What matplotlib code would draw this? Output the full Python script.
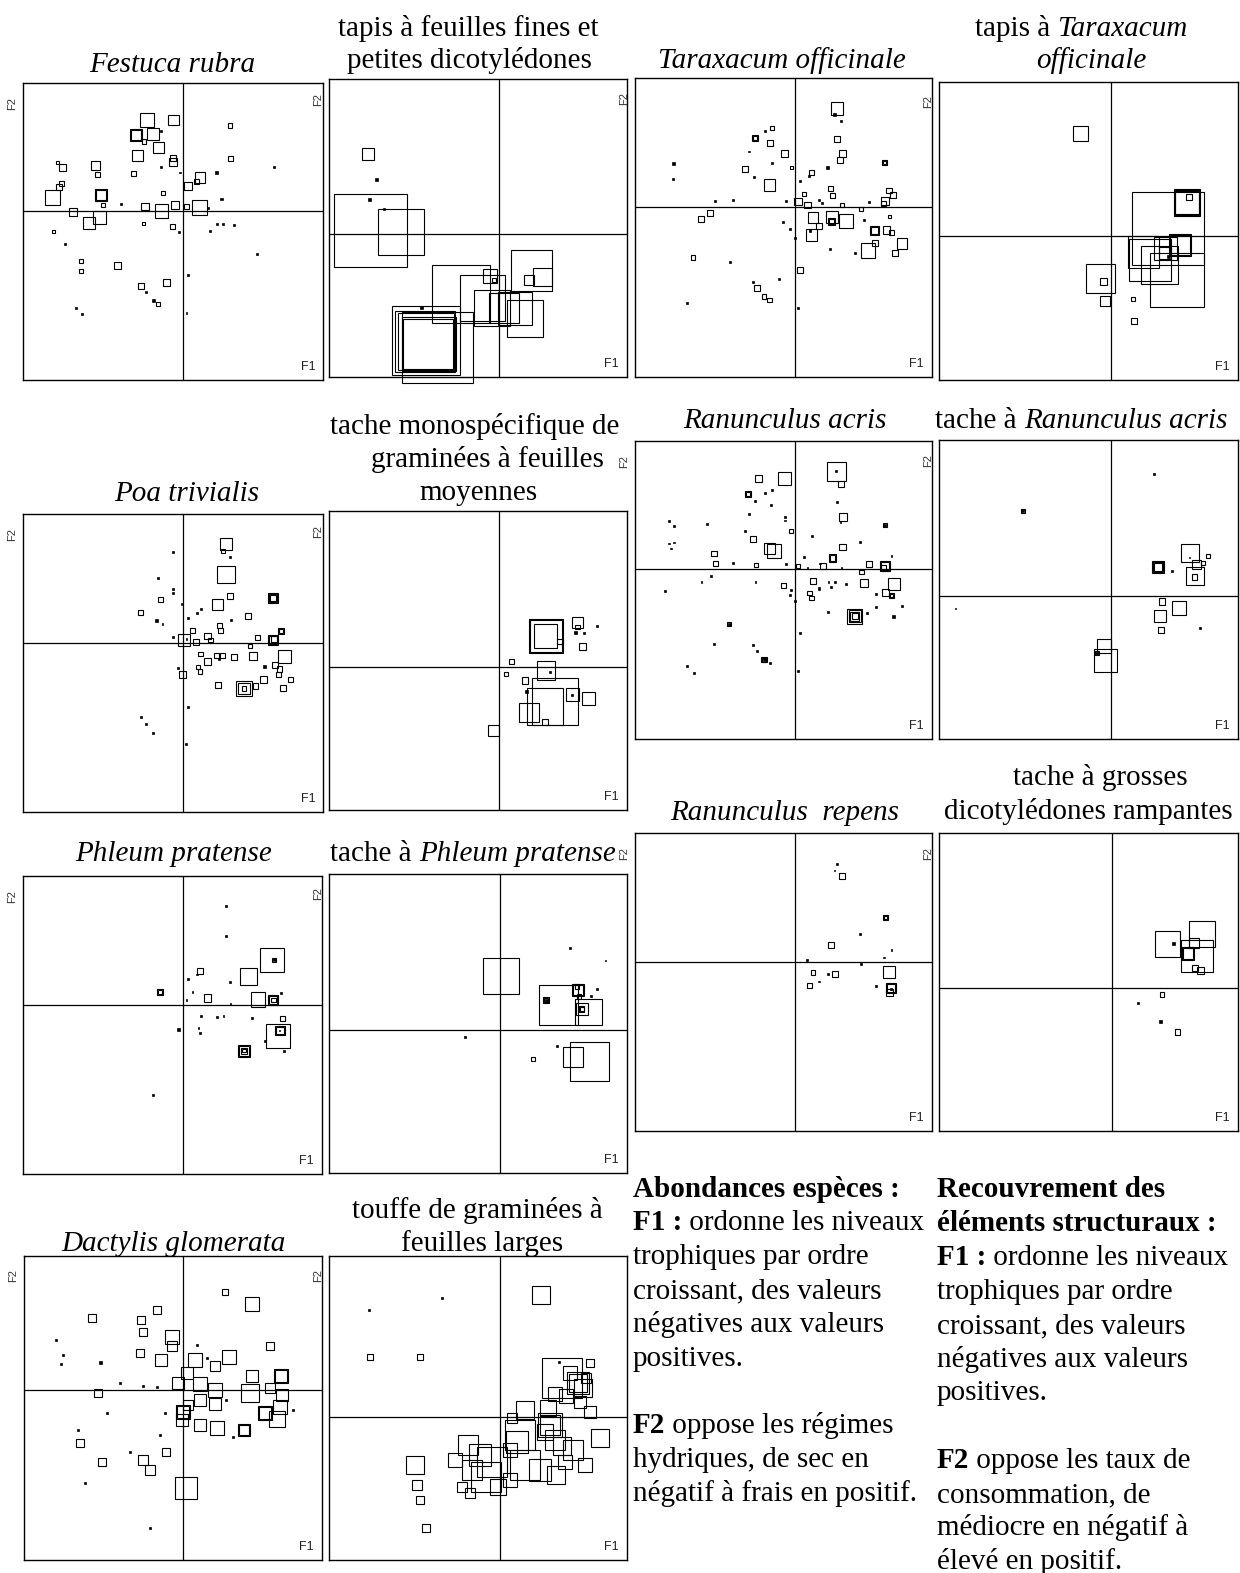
import matplotlib
matplotlib.use('Agg')
import matplotlib.pyplot as plt
from matplotlib.patches import Rectangle

# Ordination scores (F1, F2), with the marker side
# (abundance / cover). Side < 10 is drawn as a filled dot.
festuca = [(-110, 272, 42), (-29, 272, 32), (-142, 227, 36), (-142, 227, 30), (-90, 229, 36),
           (-67, 239, 8), (-118, 207, 14), (-74, 190, 34), (-138, 165, 32), (-32, 159, 18),
           (-32, 145, 24), (-67, 130, 7), (-150, 112, 14), (-10, 114, 5), (-263, 135, 28),
           (-257, 109, 14), (-378, 144, 10), (-363, 129, 20), (-365, 82, 14), (-373, 70, 18),
           (-392, 40, 46), (-247, 47, 34), (-247, 47, 28), (-240, 17, 12), (-188, 20, 6),
           (-62, 54, 12), (50, 100, 32), (40, 87, 16), (15, 74, 24), (100, 114, 7),
           (140, 255, 14), (142, 157, 16), (273, 132, 6), (115, 35, 7), (48, 10, 46),
           (10, 12, 16), (-25, 17, 22), (-65, -1, 40), (-115, 12, 22), (-330, -3, 24),
           (-252, -21, 38), (-283, -38, 36), (-390, -63, 10), (-355, -100, 6), (-120, -38, 10),
           (-32, -48, 14), (-12, -63, 6), (-307, -151, 10), (-307, -181, 12), (-197, -165, 20),
           (-50, -216, 20), (-127, -226, 16), (-112, -244, 6), (-90, -270, 9), (-77, -281, 12),
           (-323, -291, 6), (-303, -311, 6), (15, -193, 6), (75, 7, 5), (80, -61, 5),
           (102, -40, 6), (120, -41, 6), (153, -44, 6), (220, -131, 6), (10, -308, 5)]

tapis_fines = [(-395, 239, 36), (-368, 162, 9), (-391, 104, 9), (-386, 11, 218), (-294, 7, 138),
               (-346, 75, 8), (-115, -180, 175), (-51, -193, 137), (-27, -127, 42), (-15, -138, 12),
               (96, -109, 122), (129, -129, 56), (88, -138, 30), (-23, -223, 108), (47, -223, 100),
               (77, -253, 110), (14, -223, 90), (-235, -220, 9), (-220, -320, 205), (-223, -323, 182),
               (-220, -323, 170), (-213, -330, 150), (-185, -340, 212), (-211, -330, 160)]

taraxacum = [(127, 295, 38), (120, 277, 9), (140, 257, 6), (-67, 237, 12), (-88, 228, 6),
             (-120, 205, 18), (-120, 205, 13), (-73, 192, 18), (127, 203, 20), (143, 160, 20),
             (136, 140, 16), (-30, 160, 20), (-138, 165, 5), (-68, 130, 6), (-363, 128, 9),
             (-365, 82, 5), (-148, 112, 18), (-123, 90, 6), (-10, 117, 10), (50, 103, 16),
             (42, 92, 5), (98, 117, 7), (270, 133, 14), (270, 133, 10), (-75, 65, 34),
             (15, 77, 6), (107, 54, 14), (113, 34, 14), (28, 38, 14), (-238, 17, 6),
             (-185, 20, 6), (-25, 18, 6), (10, 15, 22), (38, 5, 20), (72, 20, 5),
             (82, 10, 5), (142, 5, 14), (200, -8, 12), (222, 15, 6), (283, 48, 16),
             (295, 35, 20), (270, 18, 24), (267, 10, 14), (-254, -20, 18), (-282, -37, 18),
             (55, -33, 32), (72, -58, 18), (50, -85, 34), (46, -72, 8), (113, -30, 36),
             (110, -45, 22), (110, -45, 16), (155, -42, 42), (285, -30, 10), (-35, -47, 5),
             (-13, -68, 6), (0, -93, 6), (208, -40, 6), (240, -72, 26), (240, -72, 20),
             (275, -70, 22), (290, -78, 14), (322, -110, 32), (242, -110, 18), (220, -132, 44),
             (300, -138, 18), (182, -138, 6), (105, -127, 5), (-305, -152, 14), (-193, -165, 6),
             (15, -190, 18), (-47, -217, 6), (-125, -226, 6), (-112, -243, 18), (-92, -270, 14),
             (-75, -280, 14), (-323, -290, 6), (10, -303, 6)]

tapis_taraxacum = [(-93, 308, 44), (170, 22, 218), (227, 100, 80), (227, 100, 74), (227, 100, 70),
                   (234, 116, 18), (205, -27, 66), (205, -27, 60), (97, -47, 95), (117, -72, 125),
                   (144, -87, 112), (197, -132, 160), (162, -50, 36), (172, -62, 8), (162, -37, 70),
                   (-33, -127, 88), (-23, -137, 20), (-20, -194, 30), (65, -190, 12), (68, -254, 18)]

poa = [(128, 297, 36), (118, 277, 12), (140, 258, 6), (128, 207, 52), (-30, 273, 6),
       (-75, 195, 6), (-30, 163, 6), (-30, 150, 6), (-68, 132, 14), (139, 143, 18),
       (102, 117, 34), (270, 135, 30), (270, 135, 24), (270, 135, 18), (-128, 93, 14),
       (-5, 118, 4), (53, 102, 5), (40, 90, 6), (13, 77, 6), (195, 83, 18),
       (142, 70, 6), (-80, 67, 9), (-63, 58, 4), (108, 54, 14), (112, 39, 16),
       (27, 39, 14), (293, 37, 18), (293, 37, 12), (72, 22, 20), (82, 10, 14),
       (-30, 18, 6), (3, 9, 36), (10, 13, 5), (37, 5, 18), (222, 17, 16),
       (200, -8, 14), (268, 10, 30), (268, 10, 24), (272, 13, 16), (303, -40, 38),
       (51, -32, 14), (100, -37, 16), (118, -37, 14), (152, -41, 16), (108, -47, 6),
       (208, -38, 24), (72, -55, 20), (45, -70, 12), (50, -84, 14), (-15, -73, 6),
       (-2, -93, 20), (243, -68, 9), (275, -65, 20), (288, -77, 16), (285, -93, 14),
       (241, -108, 22), (322, -108, 14), (103, -126, 18), (182, -136, 46), (182, -136, 34),
       (182, -136, 14), (217, -128, 16), (300, -135, 18), (15, -190, 6), (-128, -222, 6),
       (-113, -242, 6), (-90, -268, 6), (8, -301, 5)]

tache_mono = [(140, 92, 100), (140, 92, 96), (139, 92, 70), (182, 75, 16), (234, 133, 32),
              (234, 119, 14), (229, 102, 8), (255, 102, 6), (292, 123, 5), (249, 60, 20),
              (37, 15, 16), (20, -22, 12), (140, -12, 56), (152, -17, 6), (77, -42, 20),
              (137, -120, 110), (167, -105, 140), (219, -83, 40), (219, -85, 6), (267, -95, 40),
              (89, -138, 58), (80, -75, 9), (137, -167, 18), (-17, -191, 34)]

ran_acris = [(125, 292, 56), (125, 293, 6), (140, 255, 18), (-30, 270, 40), (-108, 270, 20),
             (-139, 223, 18), (-139, 223, 12), (-90, 227, 6), (-68, 235, 5), (-118, 203, 6),
             (-72, 190, 6), (127, 200, 7), (144, 155, 24), (137, 140, 5), (-138, 163, 5),
             (-30, 155, 5), (-30, 144, 5), (270, 130, 12), (270, 130, 8), (-377, 142, 5),
             (-363, 127, 5), (-263, 133, 5), (-10, 114, 12), (-150, 112, 6), (52, 98, 5),
             (-124, 88, 18), (195, 80, 6), (143, 65, 20), (-75, 60, 32), (-62, 53, 40),
             (-377, 75, 5), (-363, 78, 5), (-372, 60, 5), (113, 32, 22), (113, 32, 16),
             (-242, 45, 16), (-237, 15, 16), (-185, 18, 6), (-116, 10, 12), (-25, 14, 6),
             (28, 35, 4), (10, 8, 14), (38, 2, 5), (75, 15, 5), (85, 8, 16),
             (140, 2, 5), (200, -10, 14), (222, 13, 18), (270, 7, 30), (270, 7, 24),
             (267, 2, 16), (290, 37, 5), (-252, -22, 6), (-280, -40, 5), (-390, -67, 6),
             (-118, -41, 5), (-33, -50, 16), (-12, -65, 5), (-13, -78, 6), (0, -96, 5),
             (55, -37, 16), (73, -60, 8), (45, -73, 14), (50, -88, 14), (101, -40, 5),
             (120, -40, 5), (108, -56, 5), (153, -47, 5), (208, -43, 26), (298, -45, 36),
             (273, -72, 22), (290, -80, 16), (290, -80, 10), (244, -76, 6), (322, -113, 6),
             (244, -115, 6), (216, -133, 5), (180, -143, 44), (180, -143, 36), (180, -143, 28),
             (180, -143, 18), (297, -143, 9), (101, -131, 6), (-196, -167, 12), (-196, -167, 8),
             (15, -194, 6), (-242, -226, 6), (-125, -230, 6), (-112, -247, 6), (-92, -273, 16),
             (-92, -273, 12), (-92, -273, 9), (-75, -282, 5), (-323, -293, 6), (-302, -312, 6),
             (10, -306, 5)]

tache_acris = [(-266, 256, 12), (-266, 256, 8), (128, 365, 5), (235, 130, 54), (235, 115, 4),
               (290, 121, 12), (255, 95, 28), (274, 100, 12), (252, 60, 54), (250, 57, 16),
               (140, 87, 36), (140, 87, 30), (140, 87, 26), (182, 74, 6), (152, -16, 20),
               (202, -35, 42), (145, -61, 36), (148, -101, 18), (267, -96, 6), (-23, -151, 42),
               (-18, -193, 70), (-43, -171, 14), (-43, -171, 9), (-468, -36, 3)]

phleum = [(128, 295, 6), (128, 205, 6), (267, 135, 72), (273, 135, 12), (273, 135, 8),
          (196, 84, 50), (49, 100, 18), (40, 90, 5), (13, 77, 5), (140, 69, 6),
          (-70, 38, 18), (-70, 38, 12), (27, 38, 4), (10, 14, 4), (72, 20, 22),
          (142, 2, 4), (224, 16, 44), (270, 14, 30), (270, 14, 24), (270, 14, 14),
          (292, 35, 6), (53, -35, 5), (100, -38, 5), (120, -35, 5), (207, -41, 6),
          (298, -42, 16), (285, -94, 72), (290, -78, 28), (290, -78, 22), (288, -77, 4),
          (245, -110, 5), (301, -139, 6), (-16, -74, 9), (45, -70, 5), (50, -85, 5),
          (182, -138, 36), (182, -138, 30), (182, -138, 18), (182, -138, 10), (-90, -270, 6)]

tache_phleum = [(4, 162, 108), (210, 245, 6), (315, 207, 3), (175, 74, 118), (265, 53, 80),
                (233, 119, 36), (233, 119, 30), (231, 130, 14), (245, 62, 36), (245, 62, 16),
                (245, 62, 12), (139, 88, 18), (139, 88, 12), (139, 88, 9), (290, 122, 6),
                (272, 102, 6), (237, 100, 14), (-104, -21, 6), (171, -50, 6), (219, -82, 62),
                (268, -96, 118), (98, -88, 12)]

ran_repens = [(127, 293, 6), (120, 274, 4), (143, 256, 18), (272, 132, 14), (272, 132, 10),
              (197, 82, 6), (108, 50, 18), (290, 35, 5), (268, 12, 4), (38, 4, 6),
              (200, -8, 6), (55, -33, 14), (100, -38, 5), (120, -37, 18), (45, -71, 14),
              (73, -60, 4), (283, -31, 34), (245, -73, 6), (290, -78, 30), (290, -78, 24),
              (285, -93, 20), (288, -83, 6)]

tache_dicot = [(270, 162, 78), (166, 133, 76), (185, 133, 9), (254, 98, 96), (228, 105, 38),
               (228, 105, 32), (245, 135, 30), (248, 62, 18), (265, 54, 22), (150, -18, 14),
               (78, -44, 7), (146, -101, 9), (197, -131, 16)]

dactylis = [(126, 294, 18), (-78, 240, 24), (-126, 210, 24), (207, 258, 42), (-273, 216, 24),
            (-120, 174, 24), (-33, 159, 42), (-33, 132, 30), (261, 132, 24), (-381, 150, 6),
            (-360, 105, 6), (-366, 78, 6), (-249, 84, 9), (42, 135, 6), (-129, 111, 24),
            (-66, 90, 36), (36, 90, 42), (138, 99, 42), (96, 72, 30), (72, 96, 6),
            (294, 42, 42), (294, 42, 34), (12, 51, 36), (-15, 21, 36), (207, 42, 36),
            (-189, 21, 6), (-120, 12, 6), (-78, 9, 6), (-255, -9, 24), (51, 18, 42),
            (96, 0, 42), (201, -9, 54), (261, 6, 30), (297, -15, 36), (15, -45, 30),
            (51, -30, 36), (96, -42, 36), (129, -30, 6), (0, -66, 42), (0, -66, 34),
            (-3, -90, 36), (-54, -69, 6), (246, -69, 42), (246, -69, 34), (291, -51, 42),
            (282, -87, 48), (183, -120, 36), (183, -120, 28), (102, -114, 42), (51, -105, 36),
            (-228, -69, 6), (-315, -120, 6), (-309, -159, 24), (-69, -135, 6), (-243, -216, 24),
            (-159, -186, 6), (-120, -210, 30), (-99, -240, 30), (-51, -186, 24), (9, -294, 66),
            (-294, -279, 6), (-99, -414, 6), (150, -141, 6), (330, -60, 6)]

touffe = [(-393, 321, 6), (-174, 357, 6), (-390, 180, 18), (-240, 180, 18), (123, 366, 54),
          (177, 165, 6), (186, 117, 120), (234, 102, 66), (234, 102, 56), (210, 132, 42),
          (249, 87, 54), (258, 117, 30), (270, 162, 24), (165, 69, 42), (198, 63, 42),
          (144, 27, 48), (75, 21, 54), (36, -3, 30), (300, -63, 54), (270, 15, 36),
          (240, 45, 36), (150, -24, 72), (150, -24, 62), (135, -45, 48), (165, -69, 60),
          (186, -87, 54), (219, -99, 60), (60, -54, 90), (51, -75, 66), (30, -99, 42),
          (-96, -84, 60), (-60, -114, 66), (-24, -135, 90), (-42, -180, 90), (-84, -159, 60),
          (75, -144, 90), (120, -159, 66), (168, -174, 54), (195, -135, 42), (255, -144, 42),
          (-135, -129, 42), (-114, -210, 30), (-90, -228, 30), (-6, -210, 48), (30, -189, 42),
          (-255, -144, 54), (-249, -204, 30), (-240, -249, 24), (-222, -333, 24)]

W, H = 1240, 1573
SERIF = 'Liberation Serif'
SANS = 'Liberation Sans'
FS = 21

fig = plt.figure(figsize=(W / 100, H / 100), dpi=100)
fig.patch.set_facecolor('white')

# (points, frame in pixels [left, top, right, bottom], xlim, ylim)
panels = [
    (festuca, (23.3, 83.3, 323.3, 380), (-480, 420), (-508, 382)),
    (tapis_fines, (329, 79.3, 626.7, 377.3), (-511, 382), (-430, 464)),
    (taraxacum, (634.7, 78.3, 932, 376.7), (-480, 412), (-510, 385)),
    (tapis_taraxacum, (939.3, 81.7, 1238, 380), (-516, 380), (-432, 463)),
    (poa, (23.3, 514.3, 323.3, 811.7), (-480, 420), (-505, 387)),
    (tache_mono, (329, 511, 626.7, 810), (-511, 382), (-430, 467)),
    (ran_acris, (634.7, 441.3, 932, 738.7), (-480, 412), (-510, 382)),
    (tache_acris, (939.3, 440.3, 1238, 738.7), (-516, 380), (-428, 467)),
    (phleum, (23.3, 876.3, 321.7, 1174), (-480, 415), (-508, 385)),
    (tache_phleum, (329, 874, 626.7, 1173), (-513, 380), (-430, 467)),
    (ran_repens, (634.7, 833.3, 932, 1131), (-480, 412), (-508, 385)),
    (tache_dicot, (939.3, 833.3, 1238, 1131), (-518, 378), (-428, 465)),
    (dactylis, (24, 1256, 322, 1560), (-477, 417), (-510, 402)),
    (touffe, (329, 1256, 627, 1560), (-513, 381), (-429, 483)),
]

for pts, (l, t, r, b), xlim, ylim in panels:
    ax = fig.add_axes([l / W, 1 - b / H, (r - l) / W, (b - t) / H])
    ax.set_xlim(xlim)
    ax.set_ylim(ylim)
    ax.set_facecolor('none')
    ax.set_xticks([])
    ax.set_yticks([])
    for sp in ax.spines.values():
        sp.set_linewidth(1.0)
    ax.axhline(0, color='black', lw=0.9)
    ax.axvline(0, color='black', lw=0.9)
    for x, y, s in pts:
        if s < 10:
            ax.add_patch(Rectangle((x - s / 2, y - s / 2), s, s, facecolor='black',
                                   edgecolor='black', lw=0.5, clip_on=False))
        else:
            ax.add_patch(Rectangle((x - s / 2, y - s / 2), s, s, fill=False,
                                   edgecolor='black', lw=0.8, clip_on=False))

# overlay in pixel coordinates for all the text
ax0 = fig.add_axes([0, 0, 1, 1], zorder=5)
ax0.set_xlim(0, W)
ax0.set_ylim(H, 0)
ax0.axis('off')

for pts, (l, t, r, b), xlim, ylim in panels:
    ax0.text(r - 8, b - 10, 'F1', ha='right', va='baseline', fontsize=9, family=SANS, color='#222222')
    ax0.text(l - 11, t + 20, 'F2', ha='center', va='center', rotation=90, fontsize=8,
             family=SANS, color='#333333')

# plain titles: (text, x centre, baseline, italic)
titles = [
    ('Festuca rubra', 172, 72, True),
    ('tapis à feuilles fines et', 468, 36, False),
    ('petites dicotylédones', 469, 68, False),
    ('Taraxacum officinale', 782, 68, True),
    ('officinale', 1091, 68, True),
    ('tache monospécifique de', 475, 434, False),
    ('graminées à feuilles', 487, 467, False),
    ('moyennes', 478, 500, False),
    ('Poa trivialis', 187, 501, True),
    ('Ranunculus acris', 785, 428, True),
    ('tache à grosses', 1100, 785, False),
    ('dicotylédones rampantes', 1088, 819, False),
    ('Ranunculus  repens', 785, 820, True),
    ('Phleum pratense', 174, 861, True),
    ('touffe de graminées à', 477, 1218, False),
    ('feuilles larges', 482, 1251, False),
    ('Dactylis glomerata', 174, 1251, True),
]
for txt, x, y, it in titles:
    ax0.text(x, y, txt, ha='center', va='baseline', fontsize=FS, family=SERIF,
             style='italic' if it else 'normal')

# titles mixing plain and italic words: (plain, italic, left x, baseline)
mixed = [
    ('tapis à ', 'Taraxacum', 975, 36),
    ('tache à ', 'Ranunculus acris', 935, 428),
    ('tache à ', 'Phleum pratense', 330, 861),
]
for plain, ital, x, y in mixed:
    t1 = ax0.text(x, y, plain, ha='left', va='baseline', fontsize=FS, family=SERIF)
    ax0.annotate(ital, xy=(1, 0), xycoords=t1, ha='left', va='bottom', fontsize=FS,
                 family=SERIF, style='italic')

# explanatory notes: (bold part, plain part, baseline)
notes_left = [
    ('Abondances espèces :', '', 1197),
    ('F1 :', ' ordonne les niveaux', 1230),
    ('', 'trophiques par ordre', 1264),
    ('', 'croissant, des valeurs', 1298),
    ('', 'négatives aux valeurs', 1332),
    ('', 'positives.', 1366),
    ('F2', ' oppose les régimes', 1433),
    ('', 'hydriques, de sec en', 1467),
    ('', 'négatif à frais en positif.', 1501),
]
notes_right = [
    ('Recouvrement des', '', 1197),
    ('éléments structuraux :', '', 1231),
    ('F1 :', ' ordonne les niveaux', 1265),
    ('', 'trophiques par ordre', 1299),
    ('', 'croissant, des valeurs', 1333),
    ('', 'négatives aux valeurs', 1367),
    ('', 'positives.', 1400),
    ('F2', ' oppose les taux de', 1468),
    ('', 'consommation, de', 1502),
    ('', 'médiocre en négatif à', 1535),
    ('', 'élevé en positif.', 1569),
]
for x0, notes in [(633, notes_left), (937, notes_right)]:
    for bold, plain, y in notes:
        if bold:
            t1 = ax0.text(x0, y, bold, ha='left', va='baseline', fontsize=FS, family=SERIF,
                          weight='bold')
            if plain:
                ax0.annotate(plain, xy=(1, 0), xycoords=t1, ha='left', va='bottom',
                             fontsize=FS, family=SERIF)
        else:
            ax0.text(x0, y, plain, ha='left', va='baseline', fontsize=FS, family=SERIF)

fig.savefig('out.png', dpi=100, facecolor='white')
